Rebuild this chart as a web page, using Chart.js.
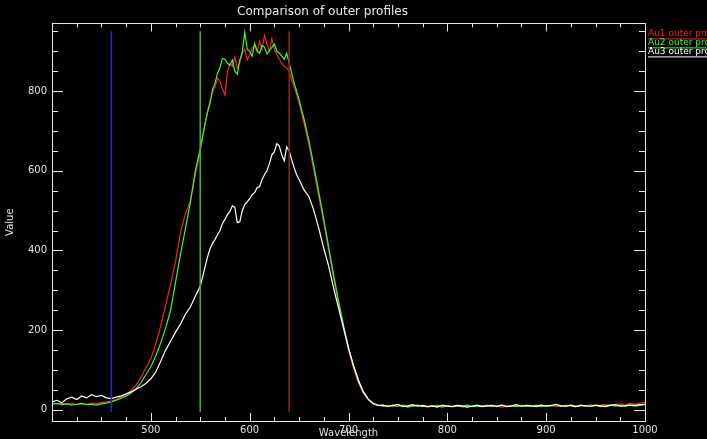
<!DOCTYPE html>
<html>
<head>
<meta charset="utf-8">
<script src="https://cdn.jsdelivr.net/npm/chart.js@4.4.1/dist/chart.umd.min.js"></script>
<style>
	html, body { margin: 0; padding: 0; background: #000; }
	#wrap { width: 707px; height: 439px; }
</style>
</head>
<body>
<div id="wrap"><canvas id="canvaPerfiles" width="707" height="439"></canvas></div>
<script>
// wavelengths (nm), finer around the peak
const wavelengths = [
	400, 405, 410, 415, 420, 425, 430, 435, 440, 445,
	450, 455, 460, 465, 470, 475, 480, 485, 490, 495,
	500, 505, 510, 515, 520, 525, 530, 535, 540, 545,
	550,
	555, 557.5, 560, 562.5, 565, 567.5, 570, 572.5, 575, 577.5,
	580, 582.5, 585, 587.5, 590, 592.5, 595, 597.5, 600, 602.5,
	605, 607.5, 610, 612.5, 615, 617.5, 620, 622.5, 625, 627.5,
	630, 632.5, 635, 637.5, 640, 642.5, 645, 647.5, 650,
	655, 660, 665, 670, 675, 680, 685, 690, 695,
	700, 705, 710, 715, 720, 725, 730, 735, 740, 745,
	750, 755, 760, 765, 770, 775, 780, 785, 790, 795,
	800, 805, 810, 815, 820, 825, 830, 835, 840, 845,
	850, 855, 860, 865, 870, 875, 880, 885, 890, 895,
	900, 905, 910, 915, 920, 925, 930, 935, 940, 945,
	950, 955, 960, 965, 970, 975, 980, 985, 990, 995,
	1000
];

const au1 = [
	18, 15, 17, 14, 16, 13, 15, 14, 16, 15,
	18, 20, 22, 26, 32, 38, 48, 62, 82, 105,
	128, 165, 210, 262, 315, 372, 445, 492, 525, 590,
	650,
	720, 752, 775, 798, 810, 832, 825, 805, 790, 848,
	870, 862, 885, 858, 872, 895, 905, 878, 890, 908,
	915, 898, 925, 905, 940, 918, 900, 932, 905, 892,
	880, 870, 862, 858, 850, 828, 810, 792, 770,
	720, 665, 600, 535, 470, 400, 330, 265, 205,
	150, 105, 68, 42, 25, 15, 11, 9, 11, 8,
	10, 12, 9, 8, 11, 10, 7, 9, 12, 8,
	10, 9, 11, 7, 9, 10, 8, 11, 9, 8,
	10, 7, 9, 11, 8, 10, 9, 8, 10, 12,
	9, 11, 8, 10, 9, 12, 10, 11, 9, 13,
	10, 12, 14, 11, 13, 15, 12, 16, 14, 17,
	19
];

const au2 = [
	14, 16, 13, 15, 12, 14, 16, 13, 14, 12,
	15, 17, 20, 24, 29, 34, 42, 52, 68, 88,
	108, 135, 168, 205, 250, 320, 390, 455, 520, 600,
	655,
	720, 748, 770, 805, 820, 845, 860, 882, 880, 870,
	865, 878, 850, 842, 878, 898, 948, 905, 900, 888,
	920, 902, 895, 915, 910, 893, 902, 910, 918, 900,
	895, 888, 880, 895, 870, 845, 820, 800, 778,
	730, 675, 612, 545, 478, 408, 338, 272, 212,
	156, 110, 72, 45, 27, 16, 12, 10, 8, 12,
	9, 11, 7, 10, 12, 8, 9, 9, 10, 7,
	11, 8, 10, 9, 12, 8, 10, 9, 11, 10,
	8, 12, 9, 10, 8, 11, 10, 9, 12, 8,
	11, 10, 13, 9, 11, 10, 8, 12, 10, 9,
	11, 8, 10, 12, 9, 11, 10, 12, 9, 11,
	13
];

const au3 = [
	20, 24, 18, 28, 32, 26, 35, 30, 38, 33,
	36, 30, 28, 32, 35, 40, 45, 52, 58, 66,
	78, 95, 122, 150, 172, 195, 215, 240, 258, 285,
	310,
	360, 385, 405, 418, 428, 440, 450, 468, 478, 490,
	498, 512, 508, 470, 472, 500, 515, 522, 530, 540,
	545, 558, 560, 578, 590, 600, 618, 640, 648, 668,
	662, 640, 625, 660, 650, 628, 608, 590, 578,
	552, 535, 500, 455, 405, 360, 305, 255, 205,
	155, 112, 75, 45, 27, 16, 11, 12, 9, 11,
	14, 8, 10, 13, 9, 11, 8, 10, 7, 12,
	9, 8, 11, 10, 7, 9, 12, 8, 10, 11,
	9, 12, 8, 10, 13, 9, 11, 10, 8, 12,
	9, 11, 14, 10, 9, 12, 8, 11, 10, 9,
	12, 10, 8, 11, 13, 9, 10, 12, 11, 13,
	14
];

// vertical marker lines
const markerX = [460, 550, 640];
const markerColors = ["#2a2ab8", "#3cb43c", "#8c1e22"];
const markerSpan = [-5, 950];

const xMin = 400, xMax = 1000;
const yMin = -28, yMax = 970;
const xLabels = [500, 600, 700, 800, 900, 1000];
const yLabels = [0, 200, 400, 600, 800];

const seriesNames = ["Au1 outer profile", "Au2 outer profile", "Au3 outer profile"];
const seriesColors = ["#ff2020", "#30ff30", "#ffffff"];

function toPoints(xs, ys) {
	let pts = [];
	for (let i = 0; i < xs.length; i++) {
		pts.push({ x: xs[i], y: ys[i] });
	}
	return pts;
}

let datasets = [];
let valores = [au1, au2, au3];
for (let i = 0; i < 3; i++) {
	datasets.push({
		label: seriesNames[i],
		data: toPoints(wavelengths, valores[i]),
		borderColor: seriesColors[i],
		borderWidth: 1.2,
		pointRadius: 0,
		tension: 0,
		order: 3 - i
	});
}
for (let i = 0; i < markerX.length; i++) {
	datasets.push({
		label: "marker" + i,
		data: [{ x: markerX[i], y: markerSpan[0] }, { x: markerX[i], y: markerSpan[1] }],
		borderColor: markerColors[i],
		borderWidth: 1.6,
		pointRadius: 0,
		order: 0
	});
}

// black background, frame, inward ticks and legend in the IDL look
const idlStyle = {
	id: "idlStyle",
	beforeDraw(chart) {
		const c = chart.ctx;
		c.save();
		c.fillStyle = "#000";
		c.fillRect(0, 0, chart.width, chart.height);
		c.restore();
	},
	afterDraw(chart) {
		const c = chart.ctx;
		const a = chart.chartArea;
		const sx = chart.scales.x;
		const sy = chart.scales.y;
		c.save();
		c.strokeStyle = "#e8e8e8";
		c.lineWidth = 1;
		c.strokeRect(Math.round(a.left) + 0.5, Math.round(a.top) + 0.5,
			Math.round(a.right - a.left), Math.round(a.bottom - a.top));
		c.beginPath();
		for (let v = xMin; v <= xMax; v += 25) {
			let px = Math.round(sx.getPixelForValue(v)) + 0.5;
			let len = (v % 100 == 0) ? 8 : 4;
			c.moveTo(px, a.bottom);
			c.lineTo(px, a.bottom - len);
			c.moveTo(px, a.top);
			c.lineTo(px, a.top + len);
		}
		for (let v = 0; v <= yMax; v += 50) {
			let py = Math.round(sy.getPixelForValue(v)) + 0.5;
			let len = (v % 200 == 0) ? 11 : 6;
			c.moveTo(a.left, py);
			c.lineTo(a.left + len, py);
			c.moveTo(a.right, py);
			c.lineTo(a.right - len, py);
		}
		c.stroke();

		// legend to the right of the frame
		c.font = "9px 'DejaVu Sans'";
		c.textBaseline = "middle";
		c.textAlign = "left";
		for (let i = 0; i < seriesNames.length; i++) {
			let ly = a.top + 10 + i * 9;
			c.fillStyle = seriesColors[i];
			c.fillText(seriesNames[i], a.right + 3, ly);
			c.strokeStyle = seriesColors[i];
			c.beginPath();
			c.moveTo(a.right + 3, ly + 5.5);
			c.lineTo(chart.width, ly + 5.5);
			c.stroke();
		}
		c.restore();
	}
};

const ctx = document.getElementById("canvaPerfiles");
const canvaPerfiles = new Chart(ctx, {
	type: "line",
	data: { datasets: datasets },
	options: {
		responsive: false,
		animation: false,
		layout: { padding: { left: 0, right: 62, top: 0, bottom: 0 } },
		plugins: {
			legend: { display: false },
			tooltip: { enabled: false },
			title: {
				display: true,
				text: "Comparison of outer profiles",
				color: "#e8e8e8",
				font: { family: "DejaVu Sans", size: 12, weight: "normal" },
				padding: { top: 5, bottom: 4 }
			}
		},
		scales: {
			x: {
				type: "linear",
				min: xMin,
				max: xMax,
				afterBuildTicks: (scale) => { scale.ticks = xLabels.map(v => ({ value: v })); },
				afterFit: (scale) => { scale.height = 18; },
				grid: { display: false, drawTicks: false, tickLength: 0 },
				border: { display: false },
				ticks: {
					color: "#e0e0e0",
					font: { family: "DejaVu Sans", size: 10 },
					padding: 3,
					maxRotation: 0,
					autoSkip: false,
					callback: (v) => String(v)
				},
				title: {
					display: true,
					text: "Wavelength",
					color: "#e0e0e0",
					font: { family: "DejaVu Sans", size: 10 },
					padding: 0
				}
			},
			y: {
				type: "linear",
				min: yMin,
				max: yMax,
				afterBuildTicks: (scale) => { scale.ticks = yLabels.map(v => ({ value: v })); },
				afterFit: (scale) => { scale.width = 52; },
				grid: { display: false, drawTicks: false, tickLength: 0 },
				border: { display: false },
				ticks: {
					color: "#e0e0e0",
					font: { family: "DejaVu Sans", size: 10 },
					padding: 5,
					autoSkip: false,
					callback: (v) => String(v)
				},
				title: {
					display: true,
					text: "Value",
					color: "#e0e0e0",
					font: { family: "DejaVu Sans", size: 10 },
					padding: { top: 4, bottom: 0 }
				}
			}
		}
	},
	plugins: [idlStyle]
});
</script>
</body>
</html>
